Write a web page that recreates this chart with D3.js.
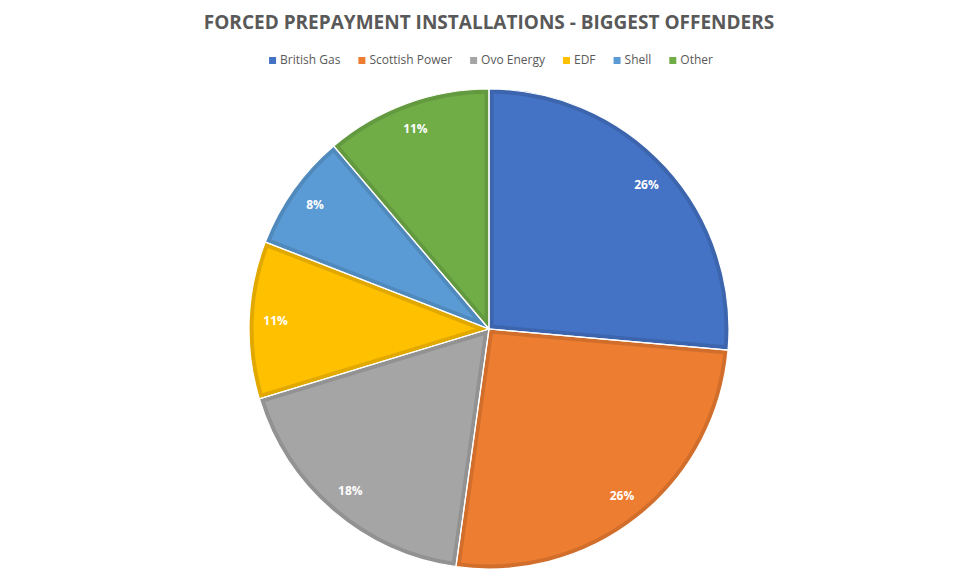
<!DOCTYPE html>
<html><head><meta charset="utf-8">
<script src="https://cdn.jsdelivr.net/npm/d3@7"></script>
<style>body{margin:0;background:#fff;}svg{display:block;}</style>
</head><body>
<svg id="c" width="959" height="587"></svg>
<script>
const categories = ["British Gas","Scottish Power","Ovo Energy","EDF","Shell","Other"];
const values = [26.4, 25.8, 18.1, 10.6, 7.9, 11.2];
const colors = ["#4472C4","#ED7D31","#A5A5A5","#FFC000","#5B9BD5","#70AD47"];
const title = "FORCED PREPAYMENT INSTALLATIONS - BIGGEST OFFENDERS";

const svg = d3.select("#c");
const W = 959, cx = 489, cy = 329, R = 240;
const font = "'Open Sans', 'Liberation Sans', sans-serif";

svg.append("text").attr("x", cx).attr("y", 29).attr("text-anchor","middle")
  .attr("font-family", font).attr("font-weight",700).attr("font-size",19)
  .attr("fill","#595959").text(title);

// legend
const lg = svg.append("g");
let x = 0;
categories.forEach((c,i)=>{
  const g = lg.append("g");
  g.append("rect").attr("x",0).attr("y",-7).attr("width",7).attr("height",7).attr("fill",colors[i]);
  const t = g.append("text").attr("x",11).attr("y",0).attr("font-family",font)
    .attr("font-size",12).attr("fill","#595959").text(c);
  const w = 11 + t.node().getComputedTextLength();
  g.attr("transform",`translate(${x},0)`);
  x += w + 18;
});
const total = x - 18;
lg.attr("transform",`translate(${cx + 2 - total/2},64)`);

const pie = d3.pie().sort(null).value(d=>d)(values);
const arc = d3.arc().innerRadius(0).outerRadius(R);
const sum = d3.sum(values);
const defs = svg.append("defs");
const pg = svg.append("g").attr("transform",`translate(${cx},${cy})`);
pie.forEach((p,i)=>{
  defs.append("clipPath").attr("id","cl"+i).append("path").attr("d",arc(p));
  const base = d3.color(colors[i]);
  pg.append("path").attr("d",arc(p)).attr("fill",colors[i])
    .attr("stroke", base.darker(0.35).formatHex()).attr("stroke-width",9)
    .attr("stroke-linejoin","miter")
    .attr("clip-path",`url(#cl${i})`);
});
pie.forEach((p,i)=>{
  pg.append("path").attr("d",arc(p)).attr("fill","none").attr("stroke","#fff").attr("stroke-width",1.2);
});
const la = d3.arc().innerRadius(R*0.89).outerRadius(R*0.89);
pie.forEach((p,i)=>{
  const [lx,ly] = la.centroid(p);
  pg.append("text").attr("x",lx).attr("y",ly+4).attr("text-anchor","middle")
    .attr("font-family",font).attr("font-weight",700).attr("font-size",12).attr("fill","#fff")
    .text(Math.round(values[i]/sum*100)+"%");
});
</script>
</body></html>
